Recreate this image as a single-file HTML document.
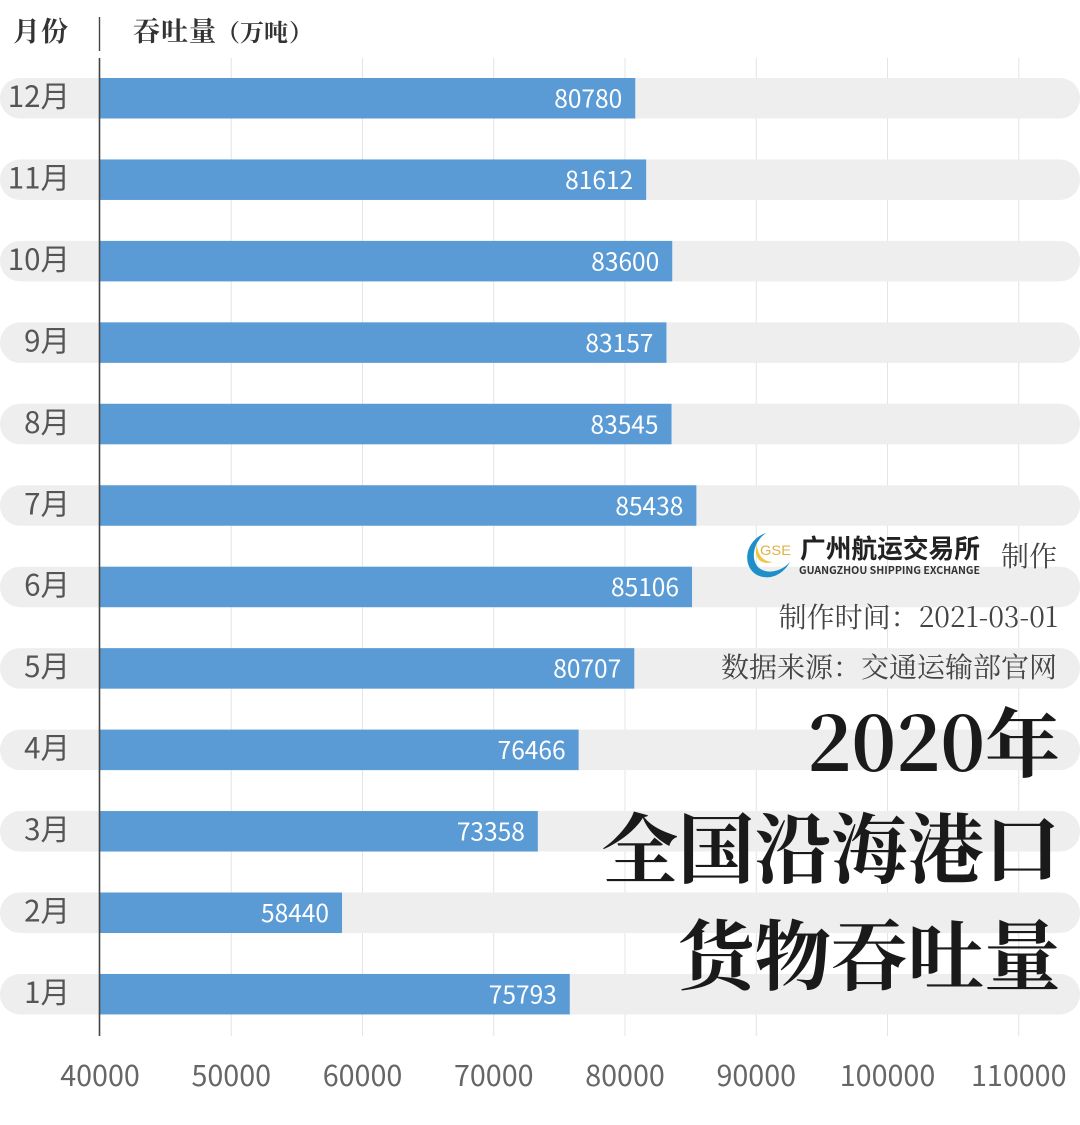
<!DOCTYPE html>
<html lang="zh">
<head>
<meta charset="utf-8">
<title>2020年全国沿海港口货物吞吐量</title>
<style>
html,body{margin:0;padding:0;background:#fff;}
svg{display:block;}
text{font-family:"Noto Sans CJK SC","Liberation Sans",sans-serif;}
.cjkserif{font-family:"Noto Serif CJK SC","Liberation Serif",serif;}
</style>
</head>
<body>
<svg id="chart" width="1080" height="1125" viewBox="0 0 1080 1125" xmlns="http://www.w3.org/2000/svg">
  <g id="grid"></g>
  <g id="tracks"></g>
  <g id="bars"></g>
  <g id="xticks"></g>
  <g id="rows"></g>
  <line x1="99.5" y1="58" x2="99.5" y2="1036" stroke="#444" stroke-width="1.6"/>

  <text class="cjkserif" x="13" y="41" font-size="27" font-weight="700" fill="#333" letter-spacing="1">月份</text>
  <line x1="99.5" y1="17" x2="99.5" y2="51" stroke="#444" stroke-width="1.4"/>
  <text class="cjkserif" y="41" font-size="27" font-weight="700" fill="#333"><tspan x="133" letter-spacing="1">吞吐量</tspan><tspan x="216" font-size="24">（</tspan><tspan x="240" font-size="24">万吨</tspan><tspan x="289" font-size="24">）</tspan></text>

  <g>
    <path d="M766 533 C745 540 741 566 757 575 C769 581 783 575 790 562 C782 571 768 575 759 568 C750 560 753 542 766 533 Z" fill="#1f8fc9"/>
    <path d="M757 545 C753 556 760 566 773 562 C766 562 758 558 757 545 Z" fill="#eec642"/>
    <text x="760" y="555" font-size="14" font-weight="400" fill="#dcb347" textLength="31" lengthAdjust="spacingAndGlyphs" style="font-family:'Liberation Sans',sans-serif">GSE</text>
    <text x="800" y="558" font-size="26" font-weight="700" fill="#222" textLength="180" lengthAdjust="spacingAndGlyphs">广州航运交易所</text>
    <text x="799" y="574" font-size="10.5" font-weight="700" fill="#333" textLength="181" lengthAdjust="spacingAndGlyphs">GUANGZHOU SHIPPING EXCHANGE</text>
  </g>
  <text class="cjkserif" x="1057" y="566" text-anchor="end" font-size="28" fill="#444">制作</text>
  <text class="cjkserif" x="1058" y="627" text-anchor="end" font-size="28" fill="#444">制作时间：2021-03-01</text>
  <text class="cjkserif" x="1057" y="677" text-anchor="end" font-size="28" fill="#444">数据来源：交通运输部官网</text>

  <text class="cjkserif" x="1060" y="771" text-anchor="end" font-size="75" font-weight="700" fill="#1a1a1a">2020年</text>
  <text class="cjkserif" x="1060.5" y="877" text-anchor="end" font-size="76.5" font-weight="700" fill="#1a1a1a">全国沿海港口</text>
  <text class="cjkserif" x="1060.5" y="984" text-anchor="end" font-size="76.5" font-weight="700" fill="#1a1a1a">货物吞吐量</text>
</svg>
<script>
const months = ['12月','11月','10月','9月','8月','7月','6月','5月','4月','3月','2月','1月'];
const throughput = [80780,81612,83600,83157,83545,85438,85106,80707,76466,73358,58440,75793];
const xTicks = [40000,50000,60000,70000,80000,90000,100000,110000];

const NS = 'http://www.w3.org/2000/svg';
const xScale = v => 100 + (v - 40000) * 0.013125;
const rowTop = i => 78 + i * 81.45;
const BAR_H = 40.5;

function mk(tag, attrs, parent, txt) {
  const el = document.createElementNS(NS, tag);
  for (const k in attrs) el.setAttribute(k, attrs[k]);
  if (txt !== undefined) el.textContent = txt;
  parent.appendChild(el);
  return el;
}
const gGrid = document.getElementById('grid');
const gTracks = document.getElementById('tracks');
const gBars = document.getElementById('bars');
const gTicks = document.getElementById('xticks');
const gRows = document.getElementById('rows');

xTicks.forEach(t => {
  if (t > 40000) {
    const g = mk('line', {x1:xScale(t), x2:xScale(t), y1:58, y2:1036, stroke:'#e4e4e4', 'stroke-width':1}, gGrid);
    
    
  }
  const l = mk('text', {x:xScale(t), y:1086, 'text-anchor':'middle', 'font-size':28.7, fill:'#666'}, gTicks, String(t));
  
  
});

months.forEach((m, i) => {
  const y = rowTop(i);
  const tr = mk('rect', {x:0, y:y, width:1080, height:BAR_H, rx:20, ry:20, fill:'#eeeeee'}, gTracks);
  
  

  const b = mk('rect', {x:100, y:y, width:xScale(throughput[i]) - 100, height:BAR_H, fill:'#5b9bd5'}, gBars);
  
  

  const v = mk('text', {x:xScale(throughput[i]) - 13, y:y + 29.5, 'text-anchor':'end', 'font-size':24.5, fill:'#fff'}, gBars, String(throughput[i]));
  
  

  const ml = mk('text', {x:70, y:y + 29, 'text-anchor':'end', 'font-size':29.5, fill:'#555'}, gRows, m);
  
  
});
</script>
</body>
</html>
